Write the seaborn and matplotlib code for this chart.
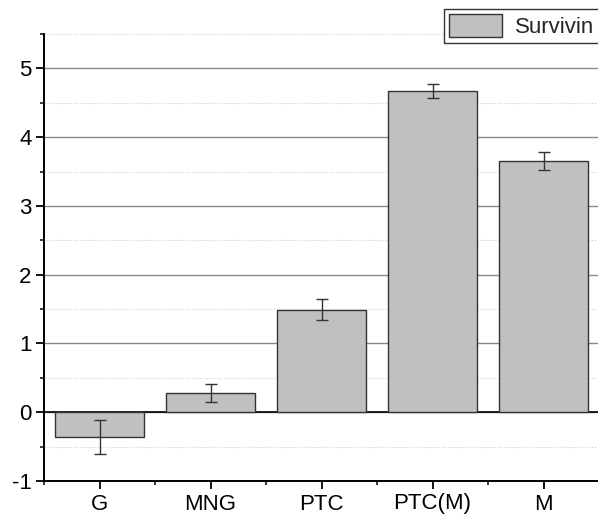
import pandas as pd
import seaborn as sns
import matplotlib.pyplot as plt
from matplotlib.ticker import MultipleLocator, FuncFormatter

groups = ['G', 'MNG', 'PTC', 'PTC(M)', 'M']
survivin = [-0.36, 0.28, 1.49, 4.67, 3.65]
errors = [0.25, 0.13, 0.15, 0.10, 0.13]

df = pd.DataFrame({'group': groups, 'value': survivin, 'err': errors, 'series': 'Survivin'})

sns.set_style('white')
plt.rcParams['font.family'] = ['Liberation Sans', 'DejaVu Sans']

fig = plt.figure(figsize=(5.98, 5.17), dpi=100)
ax = fig.add_axes([44 / 598, 1 - 481 / 517, 555 / 598, (481 - 34) / 517])

sns.barplot(data=df, x='group', y='value', hue='series', palette=['#c0c0c0'],
            width=0.8, edgecolor='#333333', linewidth=1, ax=ax, zorder=3)
ax.errorbar(range(len(groups)), df['value'], yerr=df['err'], fmt='none',
            ecolor='#333333', elinewidth=1, capsize=4, capthick=1, zorder=4)

ax.set_xlim(-0.5, 4.5)
ax.set_ylim(-1, 5.5)
ax.yaxis.set_major_locator(MultipleLocator(1))
ax.yaxis.set_minor_locator(MultipleLocator(0.5))
ax.xaxis.set_minor_locator(MultipleLocator(0.5))
ax.yaxis.set_major_formatter(FuncFormatter(lambda v, p: f'{int(round(v))}'.replace('\u2212', '-')))
ax.grid(True, axis='y', which='major', color='#888888', linewidth=1, linestyle='-', zorder=0)
ax.grid(True, axis='y', which='minor', color='#cccccc', linewidth=0.8, linestyle=':', zorder=0)
ax.axhline(0, color='black', linewidth=1.2, zorder=2)

ax.set_xlabel('')
ax.set_ylabel('')
for s in ['top', 'right']:
    ax.spines[s].set_visible(False)
for s in ['left', 'bottom']:
    ax.spines[s].set_color('black')
    ax.spines[s].set_linewidth(1.4)

ax.tick_params(axis='both', which='major', direction='out', length=6, width=1.3,
               labelsize=16, colors='black', left=True, bottom=True, pad=3)
ax.tick_params(axis='both', which='minor', direction='out', length=3, width=1.3,
               left=True, bottom=True)

leg = ax.legend(loc='upper right', bbox_to_anchor=(1.0 + 1 / 598, 1 - 9 / 517),
                bbox_transform=fig.transFigure, frameon=True, fancybox=False,
                edgecolor='black', fontsize=16, handlelength=2.35, handleheight=1.25,
                borderpad=0.22, handletextpad=0.6, borderaxespad=0)
leg.get_frame().set_linewidth(1)
leg.get_title().set_visible(False)

plt.savefig('out.png', dpi=100)
plt.close()
